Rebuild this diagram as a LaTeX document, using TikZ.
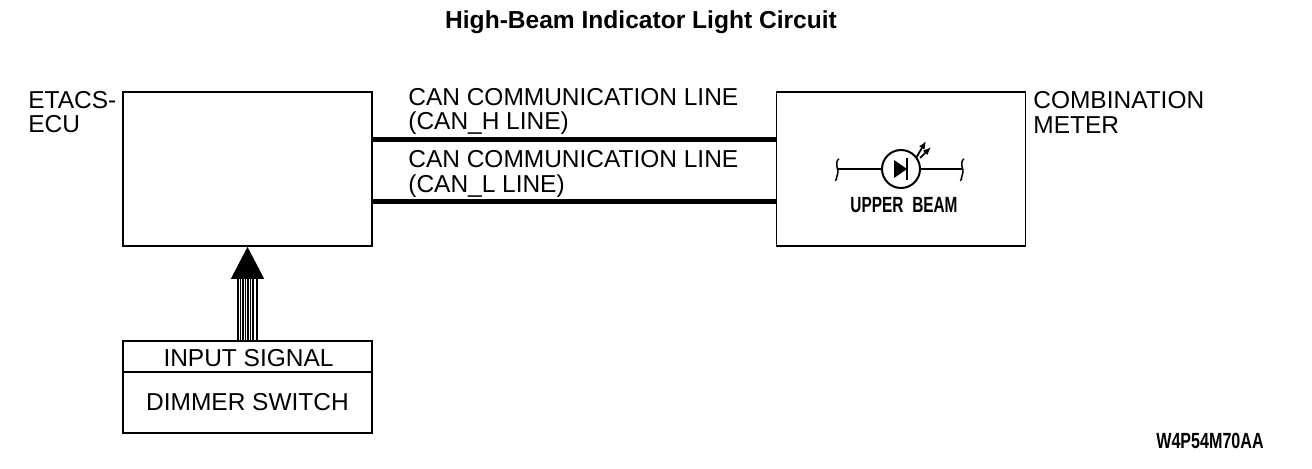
\documentclass[tikz,border=0pt]{standalone}
\usepackage{fontspec}
\setmainfont{Liberation Sans}
\usetikzlibrary{positioning,arrows.meta}
\newcommand{\lbl}{\fontsize{13.93}{14}\selectfont}
\tikzset{
    box/.style={draw, line width=0.035cm, inner sep=0pt, minimum width=4.98cm},
    txt/.style={inner sep=0pt, anchor=base west, font=\lbl},
    bus/.style={line width=0.1cm},
    thin wire/.style={line width=0.04cm},
    stencil/.style={inner sep=0pt, font=\fontsize{12.5}{13}\selectfont\bfseries}
}
\begin{document}
\begin{tikzpicture}[x=0.02cm, y=-0.02cm]
    \useasboundingbox (0,0) rectangle (1312,468);

    \node[inner sep=0pt, font=\fontsize{13.98}{15}\selectfont\bfseries] (title) at (641,22) {High-Beam Indicator Light Circuit};

    \node[box, minimum height=3.08cm] (ecu) at (247.5,169) {};
    \node[box, minimum height=3.08cm] (meter) at (901,169) {};
    \node[box, minimum height=0.62cm, font=\lbl, text height=0.4cm, text depth=0pt] (signal) at (247.5,356.5) {\hspace{0.04cm}INPUT SIGNAL};
    \node[box, minimum height=1.22cm, font=\lbl, below=-0.035cm of signal] (switch) {DIMMER SWITCH};

    % names beside the boxes
    \node[txt] (ecuA) at (28,108) {ETACS-};
    \node[txt] (ecuB) at (28,132) {ECU};
    \node[txt] (meterA) at (1033,108) {COMBINATION};
    \node[txt] (meterB) at (1033,133) {METER};

    % the two bus lines
    \foreach \y/\i/\j in {-30/H/105,32/L/167}{
        \draw[bus] ([yshift=\y*-0.02cm]ecu.east) -- ([yshift=\y*-0.02cm]meter.west);
        \node[txt] (can\i a) at (408,\j) {CAN COMMUNICATION LINE};
    }
    \node[txt] (canHb) at (408,129) {(CAN\_H LINE)};
    \node[txt] (canLb) at (408,192) {(CAN\_L LINE)};

    % striped arrow from the switch
    \coordinate (shaft) at (247.5,278);
    \foreach \x in {-9.5,-7,-4.5,-2,0.5,3,5.5,9.5}{
        \draw[line width=0.035cm] ([xshift=\x*0.02cm]signal.north) -- ([xshift=\x*0.02cm]shaft);
    }
    \draw[-{Triangle[length=0.64cm,width=0.66cm]}, line width=0.03cm] (shaft) -- (ecu.south);

    % lamp symbol
    \node[draw, circle, thin wire, minimum size=0.76cm, inner sep=0pt] (lamp) at (901,169) {};
    \coordinate (wireL) at (838,169);
    \coordinate (wireR) at (963,169);
    \draw[thin wire] (wireL) -- (lamp.west);
    \draw[thin wire] (lamp.east) -- (wireR);
    \foreach \p in {wireL,wireR}{
        \draw[line width=0.03cm] ([shift={(1,-10)}]\p) .. controls +(-5,2) and +(1,5) .. (\p)
            .. controls +(1,4) and +(-3,4) .. ([shift={(-1,10)}]\p);
    }
    \fill (894,160) -- (907,169) -- (894,178) -- cycle;
    \draw[thin wire] (907,158) -- (907,180);
    \draw[line width=0.035cm, -{Latex[length=0.16cm,width=0.13cm]}] (916,158) -- (926,141);
    \draw[line width=0.035cm, -{Latex[length=0.16cm,width=0.13cm]}] (920,158) -- (931,147);
    \node[stencil, xscale=0.7] (beam) at (904,205) {UPPER\hspace{0.3em} BEAM};

    \node[stencil, xscale=0.733] (code) at (1210,441) {W4P54M70AA};
\end{tikzpicture}
\end{document}
